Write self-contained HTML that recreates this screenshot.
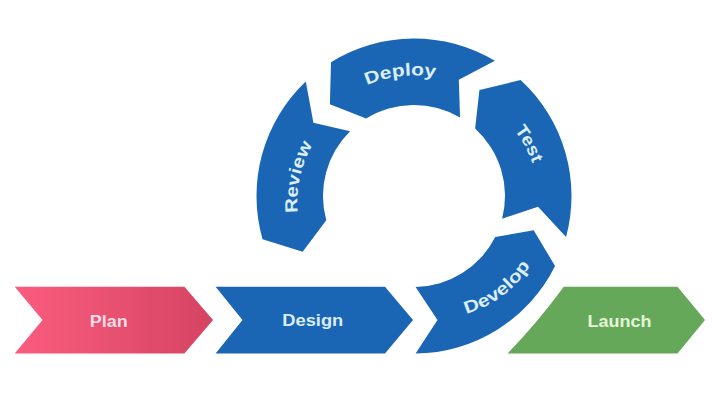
<!DOCTYPE html>
<html><head><meta charset="utf-8"><style>
html,body{margin:0;padding:0;background:#fff;}
body{width:720px;height:404px;overflow:hidden;}
svg{display:block;}
text{font-family:"Liberation Sans",sans-serif;font-weight:bold;}
</style></head><body>
<svg width="720" height="404" viewBox="0 0 720 404">
<defs>
<linearGradient id="pg" x1="0" y1="0" x2="1" y2="0">
<stop offset="0" stop-color="#fa5c7e"/><stop offset="1" stop-color="#d64463"/>
</linearGradient>
<path id="pDeploy" d="M 414.0 316.5 A 120.5 120.5 0 1 1 414.0 75.5 A 120.5 120.5 0 1 1 414.0 316.5" fill="none"/>
<path id="pTest" d="M 414.0 317.5 A 121.5 121.5 0 1 1 414.0 74.5 A 121.5 121.5 0 1 1 414.0 317.5" fill="none"/>
<path id="pReview" d="M 414.0 311.5 A 115.5 115.5 0 1 1 414.0 80.5 A 115.5 115.5 0 1 1 414.0 311.5" fill="none"/>
<path id="pDevelop" d="M 436.0 96.0 A 111.0 111.0 0 1 0 436.0 318.0 A 111.0 111.0 0 1 0 436.0 96.0" fill="none"/>
</defs>
<rect width="720" height="404" fill="#fff"/>
<path d="M 14.7 286.7 L 184.4 286.7 L 213 320.1 L 184.4 353.5 L 14.7 353.5 L 42.5 320.1 Z" fill="url(#pg)"/>
<path d="M 215.6 286.7 L 385 286.7 L 413 320.1 L 385 353.5 L 215.6 353.5 L 242.5 320.1 Z" fill="#1a66b4"/>
<path d="M 563.75 286.7 L 677.5 286.7 L 705 320.1 L 677.5 353.5 L 507.5 353.5 Q 538 322 563.75 286.7 Z" fill="#66a85a"/>
<path d="M 415.60 353.50 A 157.5 157.5 0 0 0 555.07 266.03 L 533.68 230.32 L 495.23 237.03 A 91.0 91.0 0 0 1 415.60 287.00 L 437.50 320.00 Z" fill="#1a66b4"/>
<path d="M 566.06 237.03 A 157.5 157.5 0 0 0 520.61 80.06 L 479.42 90.07 L 475.13 128.59 A 91.0 91.0 0 0 1 502.14 218.63 L 538.03 206.85 Z" fill="#1a66b4"/>
<path d="M 494.88 60.85 A 157.5 157.5 0 0 0 331.00 62.14 L 329.89 104.21 L 366.18 118.58 A 91.0 91.0 0 0 1 460.05 117.51 L 458.82 79.85 Z" fill="#1a66b4"/>
<path d="M 305.78 81.56 A 157.5 157.5 0 0 0 262.53 239.15 L 302.68 251.75 L 326.27 220.17 A 91.0 91.0 0 0 1 350.10 131.21 L 313.41 122.65 Z" fill="#1a66b4"/>
<text x="108.70" y="326.7" font-size="16.5" fill="#fadde6" text-anchor="middle" textLength="38.0" lengthAdjust="spacingAndGlyphs">Plan</text>
<text x="312.80" y="325.6" font-size="16.5" fill="#dcedfb" text-anchor="middle" textLength="61.0" lengthAdjust="spacingAndGlyphs">Design</text>
<text x="619.40" y="326.9" font-size="16.5" fill="#e4f5d8" text-anchor="middle" textLength="64.0" lengthAdjust="spacingAndGlyphs">Launch</text>
<g transform="rotate(0 399.8 71.3)"><text font-size="17.5" fill="#dcedfb" text-anchor="middle"><textPath href="#pDeploy" startOffset="364.89" textLength="70.0" lengthAdjust="spacingAndGlyphs">Deploy</textPath></text></g>
<g transform="rotate(-4 529.1 143.5)"><text font-size="17.5" fill="#dcedfb" text-anchor="middle"><textPath href="#pTest" startOffset="520.60" textLength="38.0" lengthAdjust="spacingAndGlyphs">Test</textPath></text></g>
<g transform="rotate(3 295.1 176.6)"><text font-size="17.5" fill="#dcedfb" text-anchor="middle"><textPath href="#pReview" startOffset="200.07" textLength="71.0" lengthAdjust="spacingAndGlyphs">Review</textPath></text></g>
<g transform="rotate(0 499.5 291.9)"><text font-size="17.5" fill="#dcedfb" text-anchor="middle"><textPath href="#pDevelop" startOffset="420.01" textLength="82.0" lengthAdjust="spacingAndGlyphs">Develop</textPath></text></g>
</svg>
</body></html>
